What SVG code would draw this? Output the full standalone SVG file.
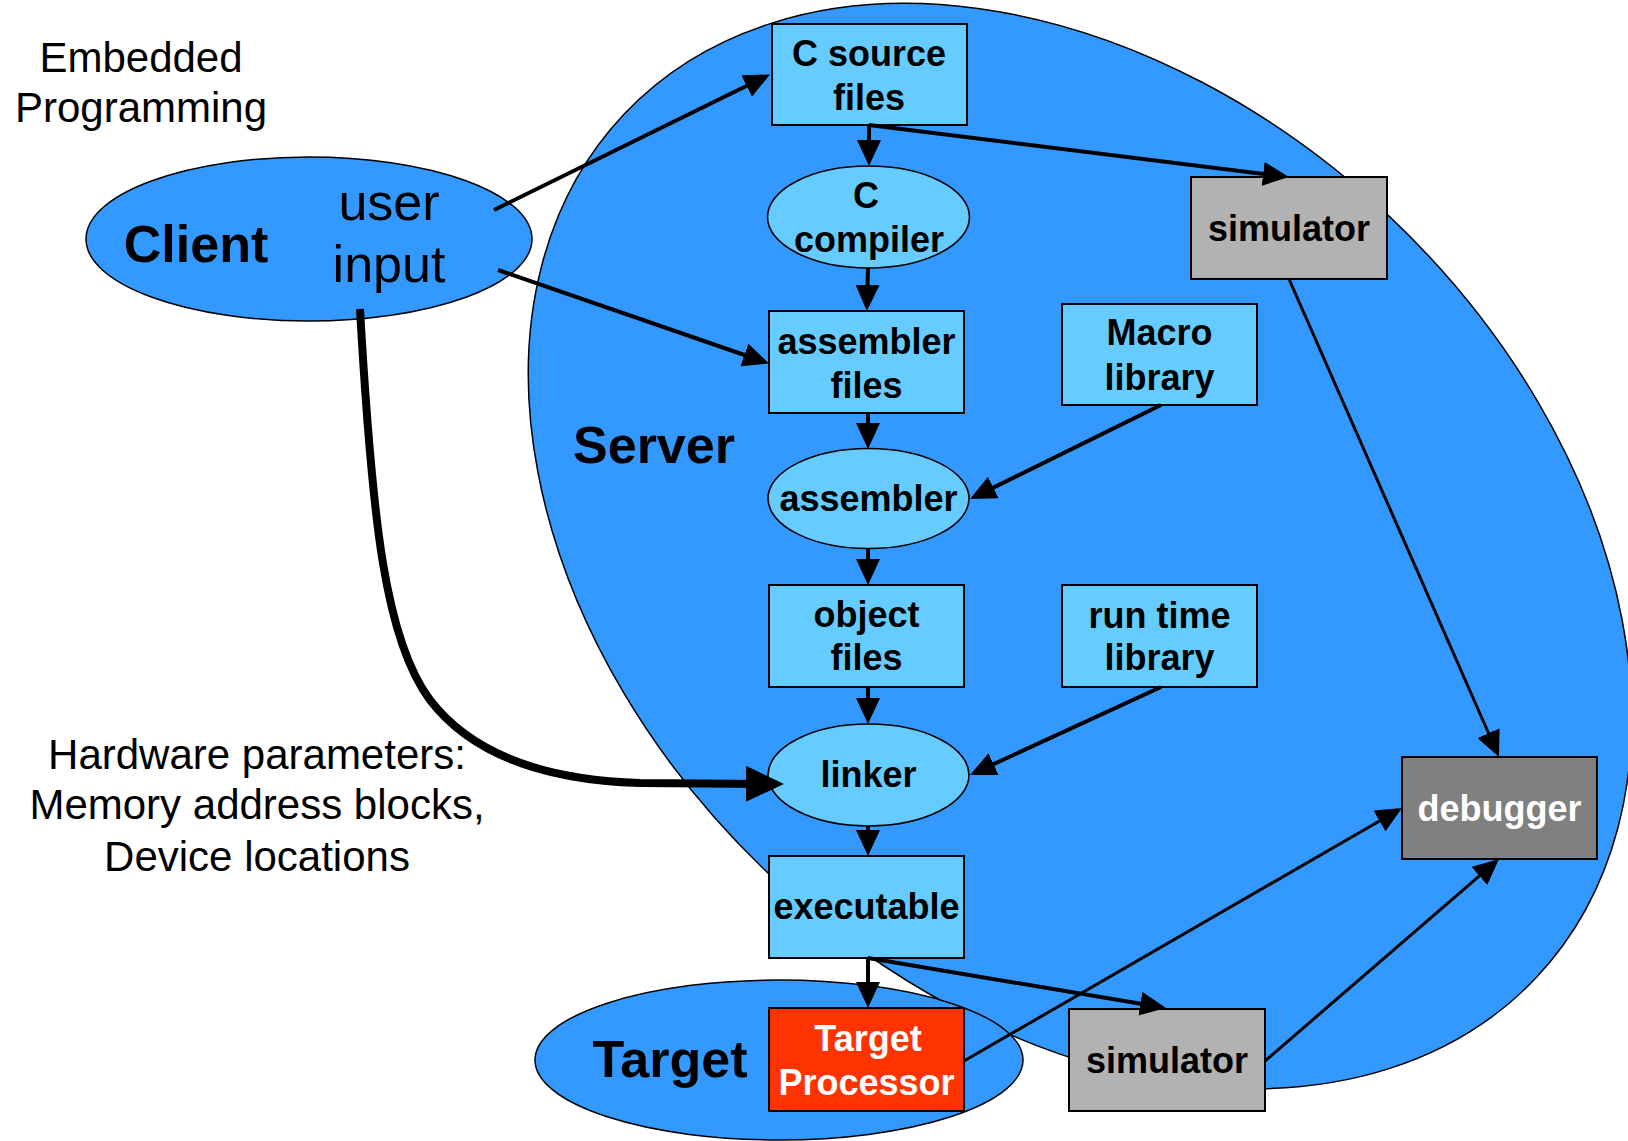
<svg xmlns="http://www.w3.org/2000/svg" width="1628" height="1141" viewBox="0 0 1628 1141">
<style>
text{font-family:"Liberation Sans",Arial,sans-serif;text-anchor:middle}
.lbl{font-size:36px;font-weight:bold;fill:#000}
.wlbl{font-size:36px;font-weight:bold;fill:#fff}
.big{font-size:52px;font-weight:bold;fill:#000}
.note{font-size:42px;fill:#000}
.box{fill:#66CCFF;stroke:#000;stroke-width:2}
.ell{fill:#66CCFF;stroke:#000;stroke-width:1.6}
.region{fill:#3399FF;stroke:#000;stroke-width:1.5}
.sim{fill:#B2B2B2;stroke:#000;stroke-width:2}
.dbg{fill:#808080;stroke:#000;stroke-width:2}
.cpu{fill:#FF3300;stroke:#000;stroke-width:2}
.edge{fill:none;stroke:#000;stroke-width:4;marker-end:url(#ah)}
.thin{stroke-width:3}
.thick{fill:none;stroke:#000;stroke-width:8;marker-end:url(#ahb)}
</style>
<defs>
<marker id="ah" markerUnits="userSpaceOnUse" markerWidth="26" markerHeight="24" refX="20" refY="12" orient="auto" viewBox="0 0 26 24"><path d="M0,0 L26,12 L0,24 z" fill="#000"/></marker>
<marker id="ahb" markerUnits="userSpaceOnUse" markerWidth="38" markerHeight="36" refX="30" refY="18" orient="auto" viewBox="0 0 38 36"><path d="M0,0 L38,18 L0,36 z" fill="#000"/></marker>
</defs>
<rect width="1628" height="1141" fill="#fff"/>

<g id="title">
<text class="note" x="141" y="72">Embedded</text>
<text class="note" x="141" y="122">Programming</text>
</g>

<g id="server">
<ellipse class="region" cx="1080" cy="546" rx="628" ry="452" transform="rotate(43.5 1080 546)"/>
<text class="big" x="654" y="463">Server</text>
</g>

<g id="target">
<ellipse class="region" cx="779" cy="1060" rx="244" ry="80"/>
<text class="big" x="670" y="1077">Target</text>
</g>

<g id="client">
<ellipse class="region" cx="309" cy="239" rx="223" ry="82"/>
<text class="big" x="196" y="262">Client</text>
<text class="note" style="font-size:52px" x="389" y="220">user</text>
<text class="note" style="font-size:52px" x="389" y="282">input</text>
</g>

<g id="hardware-note">
<text class="note" x="257" y="769">Hardware parameters:</text>
<text class="note" x="257" y="819">Memory address blocks,</text>
<text class="note" x="257" y="871">Device locations</text>
</g>

<g id="c-source-files">
<rect class="box" x="772" y="24" width="195" height="101"/>
<text class="lbl" x="869" y="66">C source</text>
<text class="lbl" x="869" y="110">files</text>
</g>

<g id="c-compiler">
<ellipse class="ell" cx="868.5" cy="217" rx="101" ry="51"/>
<text class="lbl" x="866" y="208">C</text>
<text class="lbl" x="869" y="252">compiler</text>
</g>

<g id="simulator-top">
<rect class="sim" x="1191" y="177" width="196" height="102"/>
<text class="lbl" x="1289" y="241">simulator</text>
</g>

<g id="assembler-files">
<rect class="box" x="769" y="311" width="195" height="102"/>
<text class="lbl" x="866.5" y="354">assembler</text>
<text class="lbl" x="866.5" y="398">files</text>
</g>

<g id="macro-library">
<rect class="box" x="1062" y="304" width="195" height="101"/>
<text class="lbl" x="1159.5" y="345">Macro</text>
<text class="lbl" x="1159.5" y="390">library</text>
</g>

<g id="assembler">
<ellipse class="ell" cx="868.5" cy="498.5" rx="100.5" ry="50"/>
<text class="lbl" x="868.5" y="511">assembler</text>
</g>

<g id="object-files">
<rect class="box" x="769" y="585" width="195" height="102"/>
<text class="lbl" x="866.5" y="627">object</text>
<text class="lbl" x="866.5" y="670">files</text>
</g>

<g id="run-time-library">
<rect class="box" x="1062" y="585" width="195" height="102"/>
<text class="lbl" x="1159.5" y="628">run time</text>
<text class="lbl" x="1159.5" y="670">library</text>
</g>

<g id="linker">
<ellipse class="ell" cx="868.5" cy="775" rx="100.5" ry="51"/>
<text class="lbl" x="868.5" y="787">linker</text>
</g>

<g id="debugger">
<rect class="dbg" x="1402" y="757" width="195" height="102"/>
<text class="wlbl" x="1499.5" y="821">debugger</text>
</g>

<g id="executable">
<rect class="box" x="769" y="856" width="195" height="102"/>
<text class="lbl" x="866.5" y="919">executable</text>
</g>

<g id="target-processor">
<rect class="cpu" x="769" y="1008" width="195" height="103"/>
<text class="wlbl" x="868" y="1051">Target</text>
<text class="wlbl" x="866.5" y="1095">Processor</text>
</g>

<g id="simulator-bottom">
<rect class="sim" x="1069" y="1009" width="196" height="102"/>
<text class="lbl" x="1167" y="1073">simulator</text>
</g>

<g id="connectors">
<path class="edge" d="M494,210 L764.6,77.1"/>
<path class="edge" d="M498,270 L763.3,361.5"/>
<path class="thick" d="M360,309 C372,520 385,640 430,700 C470,752 540,780 640,783 L776,784"/>
<path class="edge" d="M869,125 L869,160"/>
<path class="edge" d="M869,125 L1283,176.3"/>
<path class="edge" d="M868,268 L867,305"/>
<path class="edge" d="M868,413 L868,443"/>
<path class="edge" d="M1161,405 L975.4,496.4"/>
<path class="edge" d="M868,549 L868,579"/>
<path class="edge thin" d="M1289,279 L1496.6,751.5"/>
<path class="edge" d="M868,687 L868,718"/>
<path class="edge" d="M1161,687 L975.4,772.5"/>
<path class="edge" d="M868,826 L868,850"/>
<path class="edge" d="M868,958 L868,1002"/>
<path class="edge" d="M868,958 L1160.1,1007"/>
<path class="edge thin" d="M964,1061 L1396.8,811"/>
<path class="edge thin" d="M1265,1061 L1494.5,862.9"/>
</g>
</svg>
